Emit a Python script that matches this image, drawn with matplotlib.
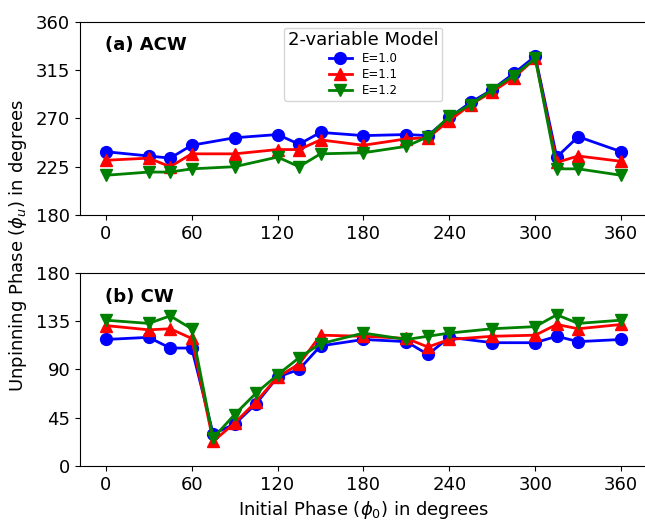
import matplotlib
matplotlib.use("Agg")
import matplotlib.pyplot as plt

# initial phases (deg) for each panel
x_acw = [0, 30, 45, 60, 90, 120, 135, 150, 180, 210, 225, 240, 255, 270, 285, 300, 315, 330, 360]
x_cw = [0, 30, 45, 60, 75, 90, 105, 120, 135, 150, 180, 210, 225, 240, 270, 300, 315, 330, 360]

# (a) ACW unpinning phase
acw_e10 = [239, 235, 233, 245, 252, 255, 246, 257, 254, 255, 254, 271, 285, 297, 312, 328, 234, 253, 239]
acw_e11 = [231, 233, 225, 237, 237, 241, 241, 250, 245, 251, 252, 268, 283, 295, 308, 326, 229, 235, 230]
acw_e12 = [217, 220, 220, 223, 225, 234, 225, 237, 238, 244, 253, 272, 283, 297, 310, 326, 223, 223, 217]

# (b) CW unpinning phase
cw_e10 = [118, 120, 110, 110, 30, 39, 58, 83, 90, 112, 118, 116, 104, 120, 115, 115, 121, 116, 118]
cw_e11 = [131, 127, 128, 119, 23, 40, 60, 83, 95, 122, 121, 119, 111, 118, 121, 122, 132, 128, 132]
cw_e12 = [136, 133, 140, 128, 26, 48, 68, 85, 101, 114, 124, 118, 121, 124, 128, 130, 141, 133, 136]

labels = ["E=1.0", "E=1.1", "E=1.2"]
colors = ["blue", "red", "green"]
markers = ["o", "^", "v"]

plt.rcParams["font.size"] = 13
fig = plt.figure(figsize=(6.45, 5.23), dpi=100)
ax1 = fig.add_axes([0.124, 0.589, 0.879, 0.369])
ax2 = fig.add_axes([0.124, 0.109, 0.879, 0.369])

for y, lab, c, m in zip([acw_e10, acw_e11, acw_e12], labels, colors, markers):
    ax1.plot(x_acw, y, color=c, marker=m, markersize=8.5, linewidth=2, label=lab)
for y, c, m in zip([cw_e10, cw_e11, cw_e12], colors, markers):
    ax2.plot(x_cw, y, color=c, marker=m, markersize=8.5, linewidth=2)

ax1.set_ylim(180, 360)
ax1.set_yticks([180, 225, 270, 315, 360])
ax2.set_ylim(0, 180)
ax2.set_yticks([0, 45, 90, 135, 180])
for ax in (ax1, ax2):
    ax.set_xlim(-18, 378)
    ax.set_xticks([0, 60, 120, 180, 240, 300, 360])
    ax.tick_params(labelsize=13)

ax1.text(0.045, 0.88, "(a) ACW", transform=ax1.transAxes, fontsize=13, fontweight="bold", va="center")
ax2.text(0.045, 0.875, "(b) CW", transform=ax2.transAxes, fontsize=13, fontweight="bold", va="center")

leg = ax1.legend(loc="upper left", bbox_to_anchor=(0.35, 1.0), title="2-variable Model",
                 fontsize=8.5, title_fontsize=13, labelspacing=0.25, borderpad=0.3)

ax2.set_xlabel(r"Initial Phase ($\phi_0$) in degrees", fontsize=13)
fig.text(0.028, 0.53, r"Unpinning Phase ($\phi_u$) in degrees", rotation=90,
         fontsize=13, ha="center", va="center")

fig.savefig("out.png", dpi=100)
